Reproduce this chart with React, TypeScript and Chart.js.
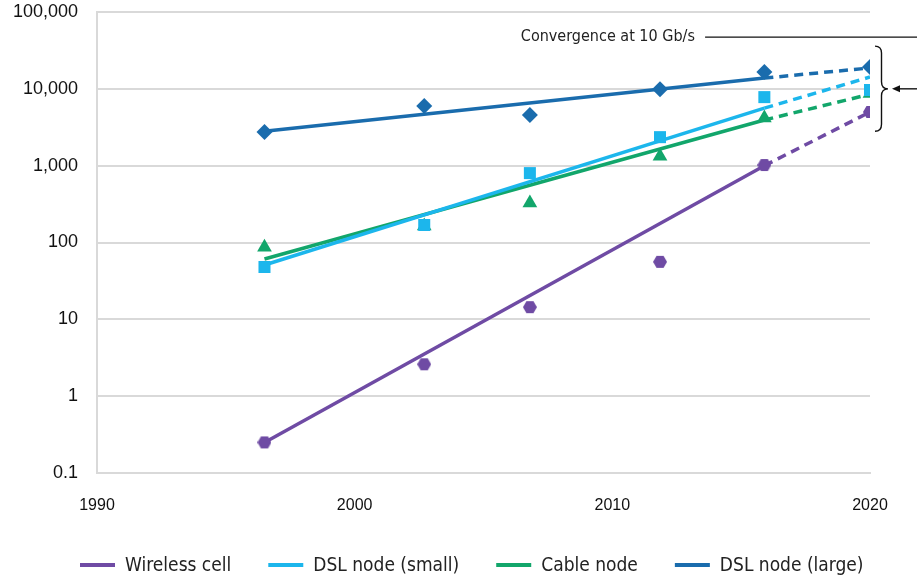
import React, { useEffect, useRef } from "react";
import { Chart, registerables } from "chart.js";

Chart.register(...registerables);

// ---- Data ----
const years = [1996.5, 2002.7, 2006.8, 2011.85, 2015.9, 2020];
const wirelessCell = [0.25, 2.6, 14.4, 56, 1020, 5000];
const dslSmall = [48, 169, 800, 2350, 7800, 9650];
const cableNode = [87, 164, 326, 1330, 4170, 8700];
const dslLarge = [2740, 5970, 4560, 9900, 16500, 19200];

// trend lines: fitted start, end of measured period, projection to 2020
const trendYears = [1996.5, 2015.9, 2020];
const wirelessTrend = [0.25, 1000, 4990];
const dslSmallTrend = [51, 5600, 14250];
const cableTrend = [61, 3930, 8500];
const dslLargeTrend = [2800, 13800, 18700];

const xTicks = [1990, 2000, 2010, 2020];
const yTicks = [0.1, 1, 10, 100, 1000, 10000, 100000];

const seriesNames = ["Wireless cell", "DSL node (small)", "Cable node", "DSL node (large)"];
const seriesColors = ["#6f4ba4", "#1cb6ec", "#12a66b", "#1a6cad"];

// annotation anchors (data units)
const annotationText = "Convergence at 10 Gb/s";
const annotationTextYear = 2006.45;
const annotationValue = 47000;
const annotationLineStartYear = 2013.6;
const braceTopValue = 36000;
const braceBottomValue = 2800;
const braceTipValue = 10000;

function makeHexagon(color: string, size: number) {
  const c = document.createElement("canvas");
  c.width = size;
  c.height = size;
  const ctx = c.getContext("2d")!;
  const r = size / 2;
  ctx.fillStyle = color;
  ctx.beginPath();
  for (let i = 0; i < 6; i++) {
    const a = (Math.PI / 3) * i;
    const px = r + r * Math.cos(a);
    const py = r + r * Math.sin(a);
    if (i === 0) ctx.moveTo(px, py);
    else ctx.lineTo(px, py);
  }
  ctx.closePath();
  ctx.fill();
  return c;
}

const legendPlugin = {
  id: "customLegend",
  afterDraw(chart: any) {
    const ctx = chart.ctx;
    const items = chart.data.datasets.filter((d: any) => d.isLegend);
    ctx.save();
    ctx.font = "19px 'DejaVu Sans Condensed'";
    ctx.textBaseline = "middle";
    ctx.textAlign = "left";
    const sw = 35;
    const gapText = 10;
    const gapItem = 37;
    let x = chart.chartArea.left - 17;
    const y = chart.height - 15;
    items.forEach((d: any) => {
      ctx.fillStyle = d.borderColor;
      ctx.fillRect(x, y - 2, sw, 4);
      x += sw + gapText;
      ctx.fillStyle = "#222";
      ctx.fillText(d.label, x, y + 1);
      x += ctx.measureText(d.label).width + gapItem;
    });
    ctx.restore();
  },
};

const annotationPlugin = {
  id: "convergence",
  afterDraw(chart: any) {
    const ctx = chart.ctx;
    const xs = chart.scales.x;
    const ys = chart.scales.y;
    const area = chart.chartArea;
    ctx.save();
    // label
    const ty = ys.getPixelForValue(annotationValue);
    ctx.font = "16px 'DejaVu Sans Condensed'";
    ctx.fillStyle = "#222";
    ctx.textBaseline = "middle";
    ctx.textAlign = "left";
    ctx.fillText(annotationText, xs.getPixelForValue(annotationTextYear), ty);
    // horizontal rule
    ctx.strokeStyle = "#111";
    ctx.lineWidth = 1.3;
    ctx.beginPath();
    ctx.moveTo(xs.getPixelForValue(annotationLineStartYear), ty);
    ctx.lineTo(chart.width, ty);
    ctx.stroke();
    // brace
    const bx = area.right + 5;
    const yTop = ys.getPixelForValue(braceTopValue);
    const yBot = ys.getPixelForValue(braceBottomValue);
    const yMid = ys.getPixelForValue(braceTipValue);
    const w = 13;
    const r = 7;
    ctx.lineWidth = 1.4;
    ctx.beginPath();
    ctx.moveTo(bx, yTop);
    ctx.quadraticCurveTo(bx + w / 2, yTop, bx + w / 2, yTop + r);
    ctx.lineTo(bx + w / 2, yMid - r);
    ctx.quadraticCurveTo(bx + w / 2, yMid, bx + w, yMid);
    ctx.quadraticCurveTo(bx + w / 2, yMid, bx + w / 2, yMid + r);
    ctx.lineTo(bx + w / 2, yBot - r);
    ctx.quadraticCurveTo(bx + w / 2, yBot, bx, yBot);
    ctx.stroke();
    // arrow
    const ax = bx + w + 4;
    ctx.beginPath();
    ctx.moveTo(chart.width, yMid);
    ctx.lineTo(ax + 6, yMid);
    ctx.stroke();
    ctx.fillStyle = "#111";
    ctx.beginPath();
    ctx.moveTo(ax, yMid);
    ctx.lineTo(ax + 8, yMid - 3.5);
    ctx.lineTo(ax + 8, yMid + 3.5);
    ctx.closePath();
    ctx.fill();
    ctx.restore();
  },
};

function zeroPadding(s: any) {
  s.paddingTop = 0;
  s.paddingBottom = 0;
  s.paddingLeft = 0;
  s.paddingRight = 0;
}

export default function App() {
  const ref = useRef<HTMLCanvasElement>(null);

  useEffect(() => {
    document.body.style.margin = "0";
    const values = [wirelessCell, dslSmall, cableNode, dslLarge];
    const trends = [wirelessTrend, dslSmallTrend, cableTrend, dslLargeTrend];
    const styles: any[] = [makeHexagon(seriesColors[0], 14), "rect", "triangle", "rectRot"];
    const radii = [7, 8.5, 8.5, 8];

    const datasets: any[] = [];
    seriesNames.forEach((name, i) => {
      datasets.push({
        label: name,
        isLegend: true,
        data: trendYears.slice(0, 2).map((x, k) => ({ x, y: trends[i][k] })),
        showLine: true,
        borderColor: seriesColors[i],
        backgroundColor: seriesColors[i],
        borderWidth: 3.5,
        pointRadius: 0,
        order: 2,
      });
      datasets.push({
        label: name + " projection",
        data: trendYears.slice(1, 3).map((x, k) => ({ x, y: trends[i][k + 1] })),
        showLine: true,
        borderColor: seriesColors[i],
        backgroundColor: seriesColors[i],
        borderWidth: 3.5,
        borderDash: [9, 6],
        pointRadius: 0,
        order: 2,
      });
      datasets.push({
        label: name + " data",
        data: years.map((x, k) => ({ x, y: values[i][k] })),
        showLine: false,
        pointStyle: styles[i],
        pointRadius: radii[i],
        pointBackgroundColor: seriesColors[i],
        pointBorderWidth: 0,
        borderColor: seriesColors[i],
        order: 1,
      });
    });

    const chart = new Chart(ref.current!, {
      type: "scatter",
      data: { datasets },
      options: {
        animation: false,
        responsive: false,
        layout: { padding: { left: 0, right: 47, top: 12, bottom: 57 } },
        plugins: {
          legend: { display: false },
          tooltip: { enabled: false },
        },
        scales: {
          x: {
            type: "linear",
            min: 1990,
            max: 2020,
            afterBuildTicks: (axis: any) => {
              axis.ticks = xTicks.map((v) => ({ value: v }));
            },
            afterFit: (s: any) => {
              s.height = 50;
              zeroPadding(s);
            },
            ticks: {
              color: "#111",
              font: { family: "'Liberation Sans'", size: 16 },
              padding: 23,
              callback: (v: any) => String(v),
            },
            grid: { display: false, drawTicks: false },
            border: { display: true, color: "#d9d9d9", width: 2 },
          },
          y: {
            type: "logarithmic",
            min: 0.1,
            max: 100000,
            afterBuildTicks: (axis: any) => {
              axis.ticks = yTicks.map((v) => ({ value: v }));
            },
            afterFit: (s: any) => {
              s.width = 97;
              zeroPadding(s);
            },
            ticks: {
              color: "#111",
              font: { family: "'Liberation Sans'", size: 18 },
              padding: 19,
              callback: (v: any) => Number(v).toLocaleString("en-US"),
            },
            grid: { color: "#d9d9d9", lineWidth: 2, drawTicks: false },
            border: { display: true, color: "#d9d9d9", width: 2 },
          },
        },
      },
      plugins: [legendPlugin, annotationPlugin],
    });
    return () => chart.destroy();
  }, []);

  return (
    <div style={{ width: 917, height: 580 }}>
      <canvas ref={ref} width={917} height={580} style={{ display: "block" }} />
    </div>
  );
}
